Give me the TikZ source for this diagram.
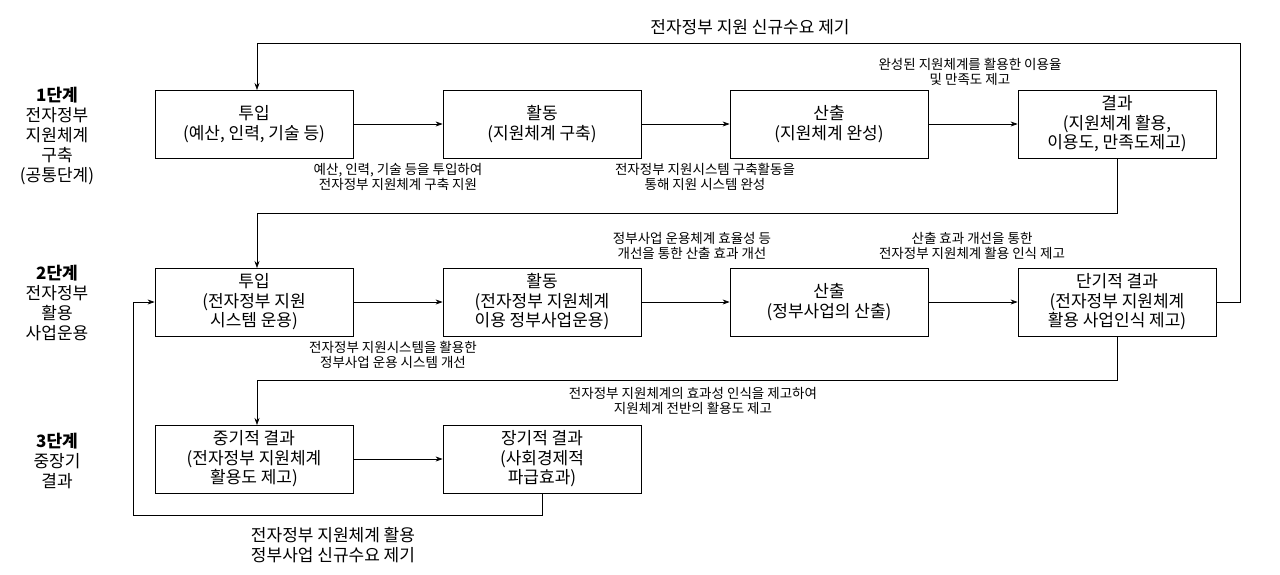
\documentclass[tikz,border=0pt]{standalone}
\usepackage{fontspec}
\setmainfont{Noto Sans CJK KR}
\usetikzlibrary{arrows.meta}
\begin{document}
\begin{tikzpicture}[x=1pt,y=-1pt,
  box/.style={draw,line width=0.8pt,minimum width=198pt,minimum height=68pt,align=center,font=\fontsize{17}{19.5}\selectfont,inner sep=0pt},
  ann/.style={align=center,font=\fontsize{13.5}{15.5}\selectfont,inner sep=0pt},
  lab/.style={align=center,font=\fontsize{17}{20}\selectfont,inner sep=0pt},
  arr/.style={-{Stealth[length=7pt,width=5pt]},line width=0.6pt}]
\useasboundingbox (0,0) rectangle (1280,574);
\node[box] (a1) at (254,124) {투입\\(예산, 인력, 기술 등)};
\node[box] (a2) at (542,124) {활동\\(지원체계 구축)};
\node[box] (a3) at (829,124) {산출\\(지원체계 완성)};
\node[box] (a4) at (1117,124) {결과\\(지원체계 활용,\\이용도, 만족도제고)};
\node[box] (b1) at (254,302) {투입\\(전자정부 지원\\시스템 운용)};
\node[box] (b2) at (542,302) {활동\\(전자정부 지원체계\\이용 정부사업운용)};
\node[box] (b3) at (829,302) {산출\\(정부사업의 산출)};
\node[box] (b4) at (1117,302) {단기적 결과\\(전자정부 지원체계\\활용 사업인식 제고)};
\node[box] (c1) at (254,459) {중기적 결과\\(전자정부 지원체계\\활용도 제고)};
\node[box] (c2) at (542,459) {장기적 결과\\(사회경제적\\파급효과)};
\draw[arr] (a1) -- (a2); \draw[arr] (a2) -- (a3); \draw[arr] (a3) -- (a4);
\draw[arr] (b1) -- (b2); \draw[arr] (b2) -- (b3); \draw[arr] (b3) -- (b4);
\draw[arr] (c1) -- (c2);
\coordinate (t1) at (1240,43);
\draw[arr] (b4.east) -| (t1) -| (257,90);
\draw[arr] (a4.south) |- (257,213) -- (257,268);
\draw[arr] (b4.south) |- (257,380) -- (257,425);
\draw[arr] (c2.south) |- (133,515) |- (b1.west);
\node[lab] (n0) at (750,27) {전자정부 지원 신규수요 제기};
\node[ann] (n1) at (970,72) {완성된 지원체계를 활용한 이용율\\및 만족도 제고};
\node[ann] (n2) at (398,177) {예산, 인력, 기술 등을 투입하여\\전자정부 지원체계 구축 지원};
\node[ann] (n3) at (705,177) {전자정부 지원시스템 구축활동을\\통해 지원 시스템 완성};
\node[ann] (n4) at (692,246) {정부사업 운용체계 효율성 등\\개선을 통한 산출 효과 개선};
\node[ann] (n5) at (972,246) {산출 효과 개선을 통한\\전자정부 지원체계 활용 인식 제고};
\node[ann] (n6) at (393,355) {전자정부 지원시스템을 활용한\\정부사업 운용 시스템 개선};
\node[ann] (n7) at (693,401) {전자정부 지원체계의 효과성 인식을 제고하여\\지원체계 전반의 활용도 제고};
\node[lab] (n8) at (333,545) {전자정부 지원체계 활용\\정부사업 신규수요 제기};
\node[lab] (s1) at (57,136) {\textbf{1단계}\\전자정부\\지원체계\\구축\\(공통단계)};
\node[lab] (s2) at (57,303) {\textbf{2단계}\\전자정부\\활용\\사업운용};
\node[lab] (s3) at (57,461) {\textbf{3단계}\\중장기\\결과};
\end{tikzpicture}
\end{document}
